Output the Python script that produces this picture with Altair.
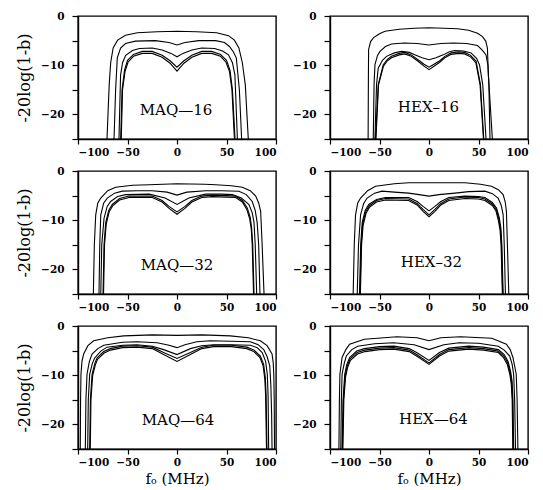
import altair as alt
import pandas as pd

# ---------------- data (x in MHz, y in dB) ----------------
MAQ16_C1 = [(-72,-27),(-70.7,-25),(-68.5,-14),(-67,-9.5),(-64.5,-6.5),(-60,-4.9),(-52,-3.9),(-40,-3.4),(-20,-3.2),(0,-3.1),(20,-3.2),(40,-3.4),(52,-4.0),(58,-4.9),(62.5,-6.5),(66,-9.5),(69,-14),(72,-25),(73,-27)]
MAQ16_C2 = [(-64.5,-27),(-63.6,-25),(-62,-15),(-60.3,-8.5),(-57,-6.5),(-52,-5.6),(-42,-5.1),(-22,-5.0),(-8,-5.4),(0,-5.9),(8,-5.4),(22,-5.0),(39,-5.0),(48,-5.4),(53,-6.2),(57,-7.3),(59.9,-8.5),(63,-15),(65.3,-25),(66,-27)]
MAQ16_C3 = [(-59.5,-27),(-58.6,-25),(-57,-12),(-55,-9.5),(-51.8,-8.0),(-45,-7.0),(-38,-6.6),(-25,-6.5),(-15,-6.9),(-6,-7.6),(0,-8.3),(6,-7.6),(15,-6.9),(25,-6.5),(38,-6.6),(46,-7.1),(52,-7.9),(56,-9.5),(58.5,-12),(61,-25),(61.8,-27)]
MAQ16_C4 = [(-57.8,-27),(-56.9,-25),(-55.5,-15),(-53,-11),(-50,-9.0),(-44,-7.8),(-35,-7.2),(-25,-7.2),(-15,-8.0),(-7,-9.1),(0,-10.4),(7,-9.1),(15,-8.0),(25,-7.2),(35,-7.2),(44,-7.8),(50,-9.0),(53.5,-11),(56,-15),(58.6,-25),(59.4,-27)]
MAQ16_C5 = [(-57.2,-27),(-56.3,-25),(-55,-15),(-52.5,-11.3),(-49.5,-9.4),(-44,-8.2),(-35,-7.6),(-25,-7.6),(-15,-8.4),(-7,-9.6),(0,-11.2),(7,-9.6),(15,-8.4),(25,-7.6),(35,-7.6),(44,-8.2),(49.5,-9.4),(53,-11.3),(55.5,-15),(58,-25),(58.8,-27)]

HEX16_C1 = [(-62,-27),(-61.5,-25),(-61.2,-12),(-61,-6.8),(-59,-5.2),(-56,-4.4),(-50,-3.6),(-44.5,-3.1),(-30,-2.7),(-15,-2.5),(0,-2.4),(15,-2.5),(29,-2.6),(40,-2.9),(49,-3.5),(54,-4.2),(57.3,-5.1),(59,-6.5),(60,-12),(64,-25),(64.5,-27)]
HEX16_C2 = [(-57,-27),(-56.3,-25),(-55.5,-14),(-54.6,-9.9),(-52,-8.0),(-49.5,-7.2),(-44,-6.2),(-37.9,-5.7),(-25,-5.5),(-12,-5.6),(0,-5.9),(12,-5.6),(25,-5.5),(38,-5.6),(49,-6.0),(54,-7.0),(57.6,-7.9),(59.5,-10),(60.5,-14),(61.6,-25),(62,-27)]
HEX16_C3 = [(-55,-27),(-54.6,-25),(-53,-14),(-51.3,-10.6),(-47,-9.0),(-42.9,-8.2),(-35,-7.5),(-27.8,-7.2),(-20,-7.4),(-14.4,-7.9),(-7,-8.5),(0,-8.9),(7,-8.5),(14.4,-7.9),(20,-7.3),(25.8,-7.0),(35,-7.1),(42.5,-7.5),(48,-8.6),(51,-9.9),(54.3,-14),(57.6,-25),(58,-27)]
HEX16_C4 = [(-54.4,-27),(-54,-25),(-51.3,-14),(-46.2,-9.9),(-42,-8.8),(-37.9,-8.2),(-30,-7.6),(-24.5,-7.4),(-18,-7.9),(-11.1,-8.9),(-5,-9.8),(0,-10.4),(5,-9.8),(10.8,-9.1),(16,-8.2),(22.4,-7.5),(30,-7.3),(35.9,-7.4),(42,-8.0),(47.6,-9.2),(52,-14),(55.3,-25),(55.7,-27)]
HEX16_C5 = [(-54,-27),(-53.6,-25),(-51,-14),(-46,-10.2),(-42,-9.1),(-37.9,-8.5),(-30,-7.9),(-24.5,-7.7),(-18,-8.2),(-11.1,-9.2),(-5,-10.2),(0,-10.9),(5,-10.2),(10.8,-9.4),(16,-8.5),(22.4,-7.8),(30,-7.6),(35.9,-7.7),(42,-8.3),(47.3,-9.5),(51.6,-14),(55,-25),(55.4,-27)]

MAQ32_C1 = [(-85,-27),(-84.5,-25),(-83.5,-15),(-82.1,-8.9),(-80,-6.5),(-77,-5.5),(-70,-4.0),(-62,-3.3),(-45,-2.9),(-28,-2.8),(0,-2.6),(28,-2.7),(39,-2.8),(55,-3.0),(66,-3.3),(74,-4.0),(79.5,-5.1),(82.5,-6.5),(84.5,-8.2),(86,-15),(87.9,-25),(88.3,-27)]
MAQ32_C2 = [(-79.3,-27),(-78.8,-25),(-78,-15),(-77,-8.9),(-74,-6.5),(-70.4,-5.5),(-63,-4.5),(-55.3,-4.1),(-40,-4.0),(-25,-4.0),(-10,-4.3),(0,-4.9),(10,-4.3),(29,-4.0),(45,-4.0),(62.6,-4.1),(70,-4.8),(76,-6.2),(79,-8.0),(81,-10.5),(82.5,-15),(83.8,-25),(84.2,-27)]
MAQ32_C3 = [(-77.5,-27),(-77,-25),(-76,-15),(-73.7,-9.6),(-70.5,-7.2),(-67,-6.2),(-60,-5.2),(-51.8,-4.8),(-28,-4.7),(-12,-5.5),(0,-6.8),(12,-5.5),(29,-4.7),(45,-4.7),(55.9,-4.8),(65,-5.5),(72.7,-6.8),(76,-8.5),(77.8,-10.5),(79,-15),(80.5,-25),(81,-27)]
MAQ32_C4 = [(-75.2,-27),(-74.7,-25),(-73.7,-15),(-72,-10.5),(-69,-8.0),(-65.4,-6.8),(-58,-5.6),(-48.5,-5.1),(-25,-5.1),(-15,-6.0),(-8.1,-7.2),(0,-8.3),(8.1,-7.2),(15,-6.0),(25,-5.1),(35.7,-4.9),(50,-5.0),(59.3,-5.1),(66,-6.0),(71,-7.5),(74,-9.5),(75.4,-11.6),(76.5,-15),(77.8,-25),(78.3,-27)]
MAQ32_C5 = [(-74.7,-27),(-74.2,-25),(-73.2,-15),(-71.5,-10.8),(-68.5,-8.3),(-65,-7.1),(-58,-5.9),(-48.5,-5.4),(-25,-5.4),(-15,-6.3),(-8,-7.6),(0,-8.8),(8,-7.6),(15,-6.3),(25,-5.4),(35.7,-5.2),(50,-5.3),(59.3,-5.4),(66,-6.3),(70.5,-7.8),(73.5,-9.8),(75,-11.8),(76,-15),(77.3,-25),(77.8,-27)]

HEX32_C1 = [(-77,-27),(-76.6,-25),(-75.5,-15),(-74.2,-8.9),(-72,-6.5),(-69.1,-5.5),(-62,-4.0),(-54,-3.1),(-35,-2.6),(-20.6,-2.4),(0,-2.4),(20,-2.4),(36.4,-2.4),(52,-2.7),(63.1,-3.1),(70,-3.8),(74.9,-4.8),(77,-6.3),(78.2,-8.2),(79.2,-15),(80.6,-25),(81,-27)]
HEX32_C2 = [(-73,-27),(-72.5,-25),(-71.2,-15),(-69.1,-8.9),(-66,-6.6),(-62.5,-5.5),(-55,-4.5),(-47.4,-4.1),(-35,-4.3),(-20.6,-4.5),(-10,-4.8),(0,-5.1),(10,-4.8),(26.3,-4.5),(40,-4.2),(56.5,-4.1),(64,-4.6),(69.8,-5.5),(73,-7.0),(74.9,-8.9),(76,-15),(77.2,-25),(77.6,-27)]
HEX32_C3 = [(-70.7,-27),(-70.2,-25),(-69,-15),(-67.5,-10.5),(-64.5,-8.0),(-60.8,-6.8),(-53,-5.8),(-44,-5.4),(-20.6,-5.4),(-12,-6.2),(-6,-7.2),(0,-8.1),(6,-7.2),(12,-6.2),(20,-5.4),(36.4,-5.1),(50,-5.2),(56.5,-5.4),(64,-6.4),(68.2,-7.5),(71,-9.5),(72.6,-11.6),(73.6,-15),(74.9,-25),(75.3,-27)]
HEX32_C4 = [(-70.2,-27),(-69.7,-25),(-68.5,-15),(-67,-10.8),(-64,-8.3),(-60.5,-7.1),(-53,-6.0),(-44,-5.6),(-20.6,-5.7),(-12,-6.6),(-6,-7.8),(0,-8.9),(6,-7.8),(12,-6.6),(20,-5.7),(36.4,-5.3),(50,-5.4),(56.5,-5.7),(64,-6.7),(68,-7.8),(70.5,-9.8),(72.2,-11.8),(73.2,-15),(74.5,-25),(74.9,-27)]
HEX32_C5 = [(-69.8,-27),(-69.3,-25),(-68.1,-15),(-66.6,-11.1),(-63.6,-8.6),(-60.2,-7.4),(-53,-6.3),(-44,-5.9),(-20.6,-6.0),(-12,-6.9),(-6,-8.2),(0,-9.3),(6,-8.2),(12,-6.9),(20,-6.0),(36.4,-5.6),(50,-5.7),(56.5,-6.0),(64,-7.0),(67.6,-8.1),(70.1,-10.1),(71.8,-12.1),(72.8,-15),(74.1,-25),(74.5,-27)]

MAQ64_C1 = [(-98,-27),(-97.7,-25),(-97.4,-15),(-97,-9.8),(-96,-7.2),(-94.3,-5.7),(-90,-4.0),(-84.2,-3.0),(-70,-2.4),(-53.8,-2.0),(-25,-1.8),(0,-1.9),(25,-1.8),(53.9,-2.0),(72,-2.4),(84.2,-3.0),(91,-4.0),(96,-5.7),(97.2,-7.5),(97.8,-10),(98.2,-15),(98.5,-25),(98.7,-27)]
MAQ64_C2 = [(-93,-27),(-92.6,-25),(-92,-15),(-90.9,-9.8),(-88.5,-7.2),(-85.8,-5.7),(-80,-4.6),(-74,-3.9),(-55,-3.3),(-40.4,-3.2),(-20,-3.4),(-8,-3.9),(0,-4.4),(8,-3.8),(20,-3.2),(33.7,-3.0),(55,-3.1),(74.1,-3.2),(82,-3.8),(87.6,-4.8),(91,-6.2),(93.7,-8.1),(94.8,-12),(95.6,-18),(96,-25),(96.2,-27)]
MAQ64_C3 = [(-90.6,-27),(-90.2,-25),(-89.6,-15),(-88.2,-9.8),(-85.5,-7.6),(-83.1,-6.5),(-77,-5.1),(-70.7,-4.3),(-55,-3.9),(-40.4,-3.8),(-25,-4.1),(-13.5,-4.8),(0,-5.8),(13.5,-4.6),(25,-4.0),(37,-3.8),(55,-3.8),(74.1,-3.9),(81,-4.4),(86.1,-5.4),(89.5,-7.2),(91.2,-9.8),(92,-14),(92.6,-25),(92.9,-27)]
MAQ64_C4 = [(-88.6,-27),(-88.2,-25),(-87.5,-15),(-85.8,-9.8),(-83,-7.6),(-80.8,-6.5),(-74,-5.2),(-67.3,-4.6),(-55,-4.1),(-40.4,-4.0),(-25,-4.3),(-13.5,-5.4),(0,-6.6),(13.5,-5.4),(25,-4.3),(37,-3.9),(55,-3.9),(70.7,-4.3),(78,-4.9),(84.2,-6.1),(87.5,-7.8),(89.2,-10.5),(90,-14),(90.9,-25),(91.2,-27)]
MAQ64_C5 = [(-88,-27),(-87.6,-25),(-86.9,-15),(-85.2,-10.1),(-82.5,-7.9),(-80.3,-6.8),(-73.6,-5.5),(-67,-4.9),(-55,-4.4),(-40.4,-4.3),(-25,-4.6),(-13.5,-5.8),(0,-7.2),(13.5,-5.8),(25,-4.6),(37,-4.2),(55,-4.2),(70.5,-4.6),(77.6,-5.2),(83.8,-6.4),(87,-8.1),(88.7,-10.8),(89.5,-14),(90.4,-25),(90.7,-27)]

HEX64_C1 = [(-91.5,-27),(-91,-25),(-90.5,-15),(-90,-9.8),(-87.8,-6.4),(-84,-4.8),(-80.2,-3.7),(-65.3,-2.7),(-32.3,-2.2),(-12,-2.4),(0,-3.0),(12,-2.4),(32,-2.2),(63.4,-2.5),(78.2,-3.7),(82,-4.8),(84.8,-6.4),(88.1,-9.8),(89,-15),(89.8,-25),(90.2,-27)]
HEX64_C2 = [(-89.5,-27),(-89.1,-25),(-88.5,-15),(-87.8,-9.8),(-85.5,-7.5),(-83.5,-6.1),(-78,-4.8),(-72,-4.1),(-55,-3.6),(-35.6,-3.4),(-15,-3.8),(0,-4.8),(15,-3.8),(30.4,-3.4),(50,-3.5),(70,-4.1),(76,-4.9),(81.5,-6.1),(84,-7.8),(85.5,-9.8),(86.5,-15),(87.4,-25),(87.8,-27)]
HEX64_C3 = [(-88.2,-27),(-87.8,-25),(-86.8,-15),(-85.1,-9.8),(-83,-7.8),(-80.2,-6.4),(-73,-5.1),(-65.3,-4.6),(-50,-4.2),(-35.6,-4.1),(-20,-4.6),(-12.5,-5.4),(0,-7.0),(10.6,-5.4),(20,-4.5),(40.3,-4.1),(55,-4.3),(70,-4.8),(76,-5.8),(79.9,-7.2),(82.5,-9.3),(83.9,-11.2),(84.8,-15),(85.5,-25),(85.9,-27)]
HEX64_C4 = [(-87.8,-27),(-87.4,-25),(-86.4,-15),(-84.7,-10.1),(-82.6,-8.1),(-79.8,-6.7),(-72.6,-5.4),(-65,-4.9),(-50,-4.5),(-35.6,-4.4),(-20,-4.9),(-12.5,-5.8),(0,-7.5),(10.6,-5.8),(20,-4.8),(40.3,-4.4),(55,-4.6),(70,-5.1),(75.6,-6.1),(79.5,-7.5),(82.1,-9.6),(83.5,-11.5),(84.4,-15),(85.1,-25),(85.5,-27)]
HEX64_C5 = [(-87.4,-27),(-87,-25),(-86,-15),(-84.3,-10.4),(-82.2,-8.4),(-79.4,-7.0),(-72.2,-5.7),(-64.7,-5.2),(-50,-4.8),(-35.6,-4.7),(-20,-5.2),(-12.5,-6.1),(0,-7.8),(10.6,-6.1),(20,-5.1),(40.3,-4.7),(55,-4.9),(70,-5.4),(75.2,-6.4),(79.1,-7.8),(81.7,-9.9),(83.1,-11.8),(84,-15),(84.7,-25),(85.1,-27)]

PANELS = ["MAQ-16", "HEX-16", "MAQ-32", "HEX-32", "MAQ-64", "HEX-64"]
PANEL_CURVES = {
    "MAQ-16": [MAQ16_C1, MAQ16_C2, MAQ16_C3, MAQ16_C4, MAQ16_C5],
    "HEX-16": [HEX16_C1, HEX16_C2, HEX16_C3, HEX16_C4, HEX16_C5],
    "MAQ-32": [MAQ32_C1, MAQ32_C2, MAQ32_C3, MAQ32_C4, MAQ32_C5],
    "HEX-32": [HEX32_C1, HEX32_C2, HEX32_C3, HEX32_C4, HEX32_C5],
    "MAQ-64": [MAQ64_C1, MAQ64_C2, MAQ64_C3, MAQ64_C4, MAQ64_C5],
    "HEX-64": [HEX64_C1, HEX64_C2, HEX64_C3, HEX64_C4, HEX64_C5],
}
LABEL_TEXT = ["MAQ—16", "HEX–16", "MAQ—32", "HEX–32", "MAQ—64", "HEX—64"]
LABEL_X = [-1, -0.5, 0, 2.5, 1, 4.5]
LABEL_Y = [-19.1, -18.5, -19.1, -18.5, -19.2, -19.0]

X_TICKS = [-100, -50, 0, 50, 100]
Y_TICKS = [0, -5, -10, -15, -20, -25]

rows = []
for p in PANELS:
    for ci, curve in enumerate(PANEL_CURVES[p]):
        for k, (xv, yv) in enumerate(curve):
            rows.append({"panel": p, "curve": ci, "k": k, "x": xv, "y": yv})
df = pd.DataFrame(rows)

FONT = "DejaVu Serif"
XSCALE = alt.Scale(domain=[-100, 100], nice=False, zero=False)
YSCALE = alt.Scale(domain=[-25, 0], nice=False, zero=False)


def make_panel(i):
    p = PANELS[i]
    left = i % 2 == 0
    bottom = i >= 4
    xaxis = alt.Axis(values=X_TICKS, title="fₒ  (MHz)" if bottom else None,
                     tickSize=5, labelPadding=3, labelFont=FONT, labelFontWeight="bold",
                     labelFontSize=10.5, titleFont=FONT, titleFontSize=15,
                     titleFontWeight="normal", titlePadding=4, grid=False)
    yaxis = alt.Axis(values=Y_TICKS, title="-20log(1-b)" if left else None,
                     labelExpr="(datum.value == 0 || datum.value == -10 || datum.value == -20) ? datum.label : ''",
                     tickSize=6, labelPadding=8, labelFont=FONT, labelFontWeight="bold",
                     labelFontSize=10.5, titleFont=FONT, titleFontSize=16,
                     titleFontWeight="normal", titlePadding=8, grid=False)
    d = df[df["panel"] == p]
    lines = alt.Chart(d).mark_line(color="black", strokeWidth=1.1, clip=True).encode(
        x=alt.X("x:Q", scale=XSCALE, axis=xaxis),
        y=alt.Y("y:Q", scale=YSCALE, axis=yaxis),
        detail="curve:N",
        order="k:Q",
    )
    lab = pd.DataFrame({"x": [LABEL_X[i]], "y": [LABEL_Y[i]], "t": [LABEL_TEXT[i]]})
    text = alt.Chart(lab).mark_text(font=FONT, fontSize=15, color="black").encode(
        x=alt.X("x:Q", scale=XSCALE, axis=xaxis),
        y=alt.Y("y:Q", scale=YSCALE, axis=yaxis),
        text="t:N")
    return alt.layer(lines, text).properties(width=198, height=123)

chart = alt.concat(*[make_panel(i) for i in range(6)], columns=2).properties(
    spacing={"row": 32, "column": 54}, bounds="flush",
    padding={"left": 7, "top": 2, "right": 4, "bottom": 2},
).configure_view(stroke="black", strokeWidth=1.4).configure_axis(
    domainColor="black", domainWidth=1.4, tickColor="black", tickWidth=1.2,
    labelColor="black", titleColor="black"
)

chart.save("out.html", embed_options={"renderer": "svg", "actions": False})
